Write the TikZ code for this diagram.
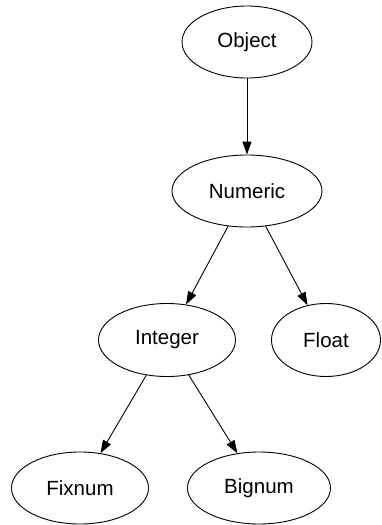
\documentclass[tikz,border=0pt]{standalone}
\usepackage{fontspec}
\setmainfont{Liberation Sans}
\usetikzlibrary{shapes.geometric,arrows.meta}
\begin{document}
\begin{tikzpicture}[x=1pt,y=-1pt,
  cls/.style={ellipse,draw,line width=0.9pt,inner sep=0pt,font=\fontsize{20.5}{24}\selectfont},
  arr/.style={line width=0.9pt,-{Triangle[length=13pt,width=9pt]}}]
\useasboundingbox (0,0) rectangle (381,525);
\node[cls,minimum width=130pt,minimum height=72pt] (object) at (247,42) {Object};
\node[cls,minimum width=150pt,minimum height=72pt] (numeric) at (247,191) {Numeric};
\node[cls,minimum width=137pt,minimum height=73pt] (integer) at (167,340) {Integer};
\node[cls,minimum width=109pt,minimum height=73pt] (float) at (326,340) {Float};
\node[cls,minimum width=137pt,minimum height=72pt] (fixnum) at (80,488) {Fixnum};
\node[cls,minimum width=143pt,minimum height=72pt] (bignum) at (259,488) {Bignum};
\draw[arr] (object) -- (numeric);
\draw[arr] (numeric) -- (integer);
\draw[arr] (numeric) -- (float);
\draw[arr] (integer) -- (fixnum);
\draw[arr] (integer) -- (bignum);
\end{tikzpicture}
\end{document}
